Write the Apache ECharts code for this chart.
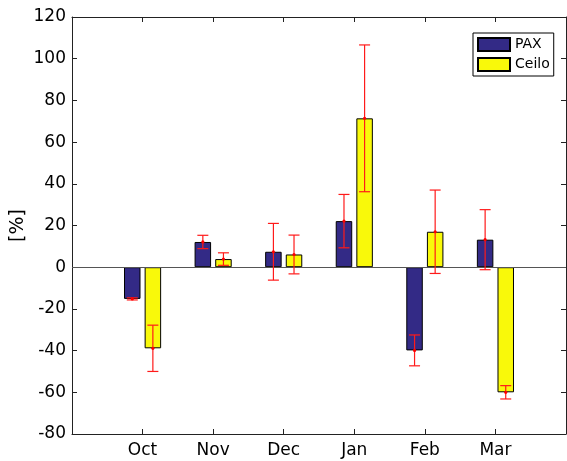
<!DOCTYPE html>
<html>
<head>
<meta charset="utf-8">
<script src="https://cdn.jsdelivr.net/npm/echarts@6/dist/echarts.min.js"></script>
<style>html,body{margin:0;padding:0;background:#fff}#c{width:567px;height:461px}</style>
</head>
<body>
<div id="c"></div>
<script>
const categories = ['', 'Oct', 'Nov', 'Dec', 'Jan', 'Feb', 'Mar', ' '];
const paxValues = [-15.2, 12.1, 7.4, 22.1, -39.9, 13.2];
const paxErrors = [0.5, 3.2, 13.6, 12.8, 7.4, 14.4];
const ceiloValues = [-38.9, 3.9, 6.1, 71.4, 17.0, -60.0];
const ceiloErrors = [11.1, 3.0, 9.3, 35.2, 20.0, 3.2];
const yTicks = { min: -80, max: 120, interval: 20 };

const FONT = 'DejaVu Sans';
const AXIS_COLOR = '#222';
const BAR_OFFSET = 10.3;

function toPairs(vals) { return vals.map((v, i) => [i + 1, v]); }
function toErr(vals, errs) { return vals.map((v, i) => [i + 1, v, errs[i]]); }

function errorRenderer(offset) {
  return function (params, api) {
    const idx = api.value(0), v = api.value(1), e = api.value(2);
    const hi = api.coord([idx, v + e]);
    const lo = api.coord([idx, v - e]);
    const mid = api.coord([idx, v]);
    const x = hi[0] + offset;
    const cap = 5.5;
    const style = { stroke: '#ff1a1a', lineWidth: 1.2 };
    return {
      type: 'group',
      children: [
        { type: 'line', shape: { x1: x, y1: hi[1], x2: x, y2: lo[1] }, style },
        { type: 'line', shape: { x1: x - cap, y1: hi[1], x2: x + cap, y2: hi[1] }, style },
        { type: 'line', shape: { x1: x - cap, y1: lo[1], x2: x + cap, y2: lo[1] }, style },
        { type: 'circle', shape: { cx: x, cy: mid[1], r: 1.6 }, style: { fill: '#ff0000' } }
      ]
    };
  };
}

const chart = echarts.init(document.getElementById('c'), null, { renderer: 'canvas' });
const xCommon = {
  type: 'category', data: categories, boundaryGap: false,
  axisLine: { show: true, onZero: false, lineStyle: { color: AXIS_COLOR, width: 1 } },
  axisTick: { show: true, inside: true, length: 5, interval: 0, lineStyle: { color: AXIS_COLOR } },
  splitLine: { show: false }
};
const yCommon = {
  type: 'value', min: yTicks.min, max: yTicks.max, interval: yTicks.interval,
  axisLine: { show: true, onZero: false, lineStyle: { color: AXIS_COLOR, width: 1 } },
  axisTick: { show: true, inside: true, length: 5, lineStyle: { color: AXIS_COLOR } },
  splitLine: { show: false }
};
chart.setOption({
  animation: false,
  backgroundColor: '#fff',
  textStyle: { fontFamily: FONT },
  grid: { left: 72, right: 1, top: 17, bottom: 27, containLabel: false, outerBoundsMode: 'none' },
  legend: {
    data: ['PAX', 'Ceilo'],
    orient: 'vertical', left: 473, top: 33,
    itemWidth: 32, itemHeight: 13, itemGap: 5, itemTextGap: 3,
    padding: 4, borderColor: '#000', borderWidth: 1, backgroundColor: '#fff',
    borderRadius: 0,
    icon: 'rect',
    textStyle: { fontFamily: FONT, fontSize: 14, color: '#000', lineHeight: 14 }
  },
  xAxis: [
    Object.assign({}, xCommon, {
      position: 'bottom',
      axisLabel: { show: true, interval: 0, fontFamily: FONT, fontSize: 17, color: '#000', margin: 8 }
    }),
    Object.assign({}, xCommon, { position: 'top', axisLabel: { show: false } })
  ],
  yAxis: [
    Object.assign({}, yCommon, {
      position: 'left',
      name: '[%]', nameLocation: 'middle', nameGap: 44, nameRotate: 90, nameMoveOverlap: false,
      nameTextStyle: { fontFamily: FONT, fontSize: 19, color: '#000' },
      axisLabel: { show: true, fontFamily: FONT, fontSize: 17, color: '#000', margin: 6 }
    }),
    Object.assign({}, yCommon, { position: 'right', axisLabel: { show: false } })
  ],
  series: [
    {
      name: 'PAX', type: 'bar', xAxisIndex: 0, yAxisIndex: 0,
      data: toPairs(paxValues), barWidth: 16.5, barGap: '25%',
      itemStyle: { color: '#332a86', borderColor: '#000', borderWidth: 1 },
      markLine: {
        silent: true, symbol: 'none', label: { show: false },
        lineStyle: { color: '#555', type: 'solid', width: 1 },
        data: [{ yAxis: 0 }]
      },
      z: 2
    },
    {
      name: 'Ceilo', type: 'bar', xAxisIndex: 0, yAxisIndex: 0,
      data: toPairs(ceiloValues), barWidth: 16.5, barGap: '25%',
      itemStyle: { color: '#f9f90a', borderColor: '#000', borderWidth: 1 },
      z: 2
    },
    {
      type: 'custom', name: 'paxErr', xAxisIndex: 0, yAxisIndex: 0,
      renderItem: errorRenderer(-BAR_OFFSET), data: toErr(paxValues, paxErrors), z: 5, silent: true
    },
    {
      type: 'custom', name: 'ceiloErr', xAxisIndex: 0, yAxisIndex: 0,
      renderItem: errorRenderer(BAR_OFFSET), data: toErr(ceiloValues, ceiloErrors), z: 5, silent: true
    }
  ]
});
</script>
</body>
</html>
